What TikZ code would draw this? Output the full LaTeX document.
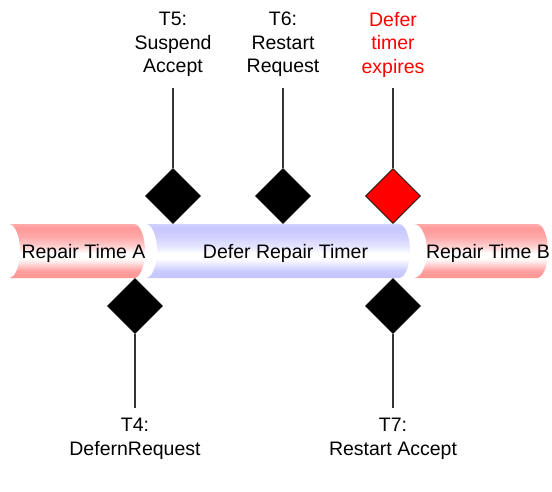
\documentclass[tikz,border=0pt]{standalone}
\usepackage{fontspec}
\setmainfont{Liberation Sans}
\usetikzlibrary{shapes.geometric}

% horizontal bands of the pipe bodies (bottom to top); the path box
% covers the 25bp--75bp part of the shading
\pgfdeclareverticalshading{pipered}{100bp}{%
  color(0bp)=(red!42); color(25bp)=(red!42); color(32bp)=(red!37);
  color(39bp)=(red!12); color(43bp)=(white); color(48bp)=(white);
  color(54bp)=(red!18); color(63bp)=(red!34); color(71bp)=(red!40);
  color(75bp)=(red!33); color(100bp)=(red!33)}
\pgfdeclareverticalshading{pipeblue}{100bp}{%
  color(0bp)=(blue!23); color(25bp)=(blue!23); color(32bp)=(blue!20);
  color(39bp)=(blue!7); color(43bp)=(white); color(48bp)=(white);
  color(54bp)=(blue!10); color(63bp)=(blue!18); color(71bp)=(blue!22);
  color(75bp)=(blue!18); color(100bp)=(blue!18)}

\tikzset{
  evt/.style={diamond, draw=black, fill=black, line width=0.6pt,
    minimum width=55pt, minimum height=55pt, inner sep=0pt},
  evtred/.style={evt, fill=red},
  tick/.style={draw=black!80, line width=1.2pt},
  lbl/.style={align=center, inner sep=0pt, anchor=north,
    font=\fontsize{19.5}{23.5}\selectfont},
  pipetext/.style={inner sep=0pt, anchor=base,
    font=\fontsize{19.5}{22}\selectfont}
}

\begin{document}
\begin{tikzpicture}[x=1pt, y=-1pt]
  \useasboundingbox (0,0) rectangle (552,491);

  % timer pipes: concave left end, rounded right end
  \shade[shading=pipered]
    (9,224) -- (134,224) arc[start angle=90, end angle=-90, x radius=11pt, y radius=27pt]
    -- (9,278) arc[start angle=-90, end angle=90, x radius=11pt, y radius=27pt] -- cycle;
  \shade[shading=pipeblue]
    (146,224) -- (399,224) arc[start angle=90, end angle=-90, x radius=11pt, y radius=27pt]
    -- (146,278) arc[start angle=-90, end angle=90, x radius=11pt, y radius=27pt] -- cycle;
  \shade[shading=pipered]
    (414,224) -- (537,224) arc[start angle=90, end angle=-90, x radius=11pt, y radius=27pt]
    -- (414,278) arc[start angle=-90, end angle=90, x radius=13pt, y radius=27pt] -- cycle;

  \node[pipetext] (pa) at (83.5,258) {Repair Time A};
  \node[pipetext] (pd) at (285.5,258) {Defer Repair Timer};
  \node[pipetext] (pb) at (488,258) {Repair Time B};

  % transition markers
  \node[evt] (d5) at (173,196) {};
  \node[evt] (d6) at (283,196) {};
  \node[evtred] (dx) at (393,196) {};
  \node[evt] (d4) at (135,306) {};
  \node[evt] (d7) at (393,306) {};

  % labels
  \node[lbl] (t5) at (173,12) {T5:\\Suspend\\Accept};
  \node[lbl] (t6) at (283,12) {T6:\\Restart\\Request};
  \node[lbl, text=red] (tx) at (393,12) {Defer\\timer\\expires};
  \node[lbl] (t4) at (135,418) {T4:\\DefernRequest};
  \node[lbl] (t7) at (393,418) {T7:\\Restart Accept};

  % stems
  \coordinate (c5) at (173,88);
  \coordinate (c6) at (283,88);
  \coordinate (cx) at (393,88);
  \coordinate (c4) at (135,408);
  \coordinate (c7) at (393,408);
  \draw[tick] (d5.north) -- (c5);
  \draw[tick] (d6.north) -- (c6);
  \draw[tick] (dx.north) -- (cx);
  \draw[tick] (d4.south) -- (c4);
  \draw[tick] (d7.south) -- (c7);
\end{tikzpicture}
\end{document}
